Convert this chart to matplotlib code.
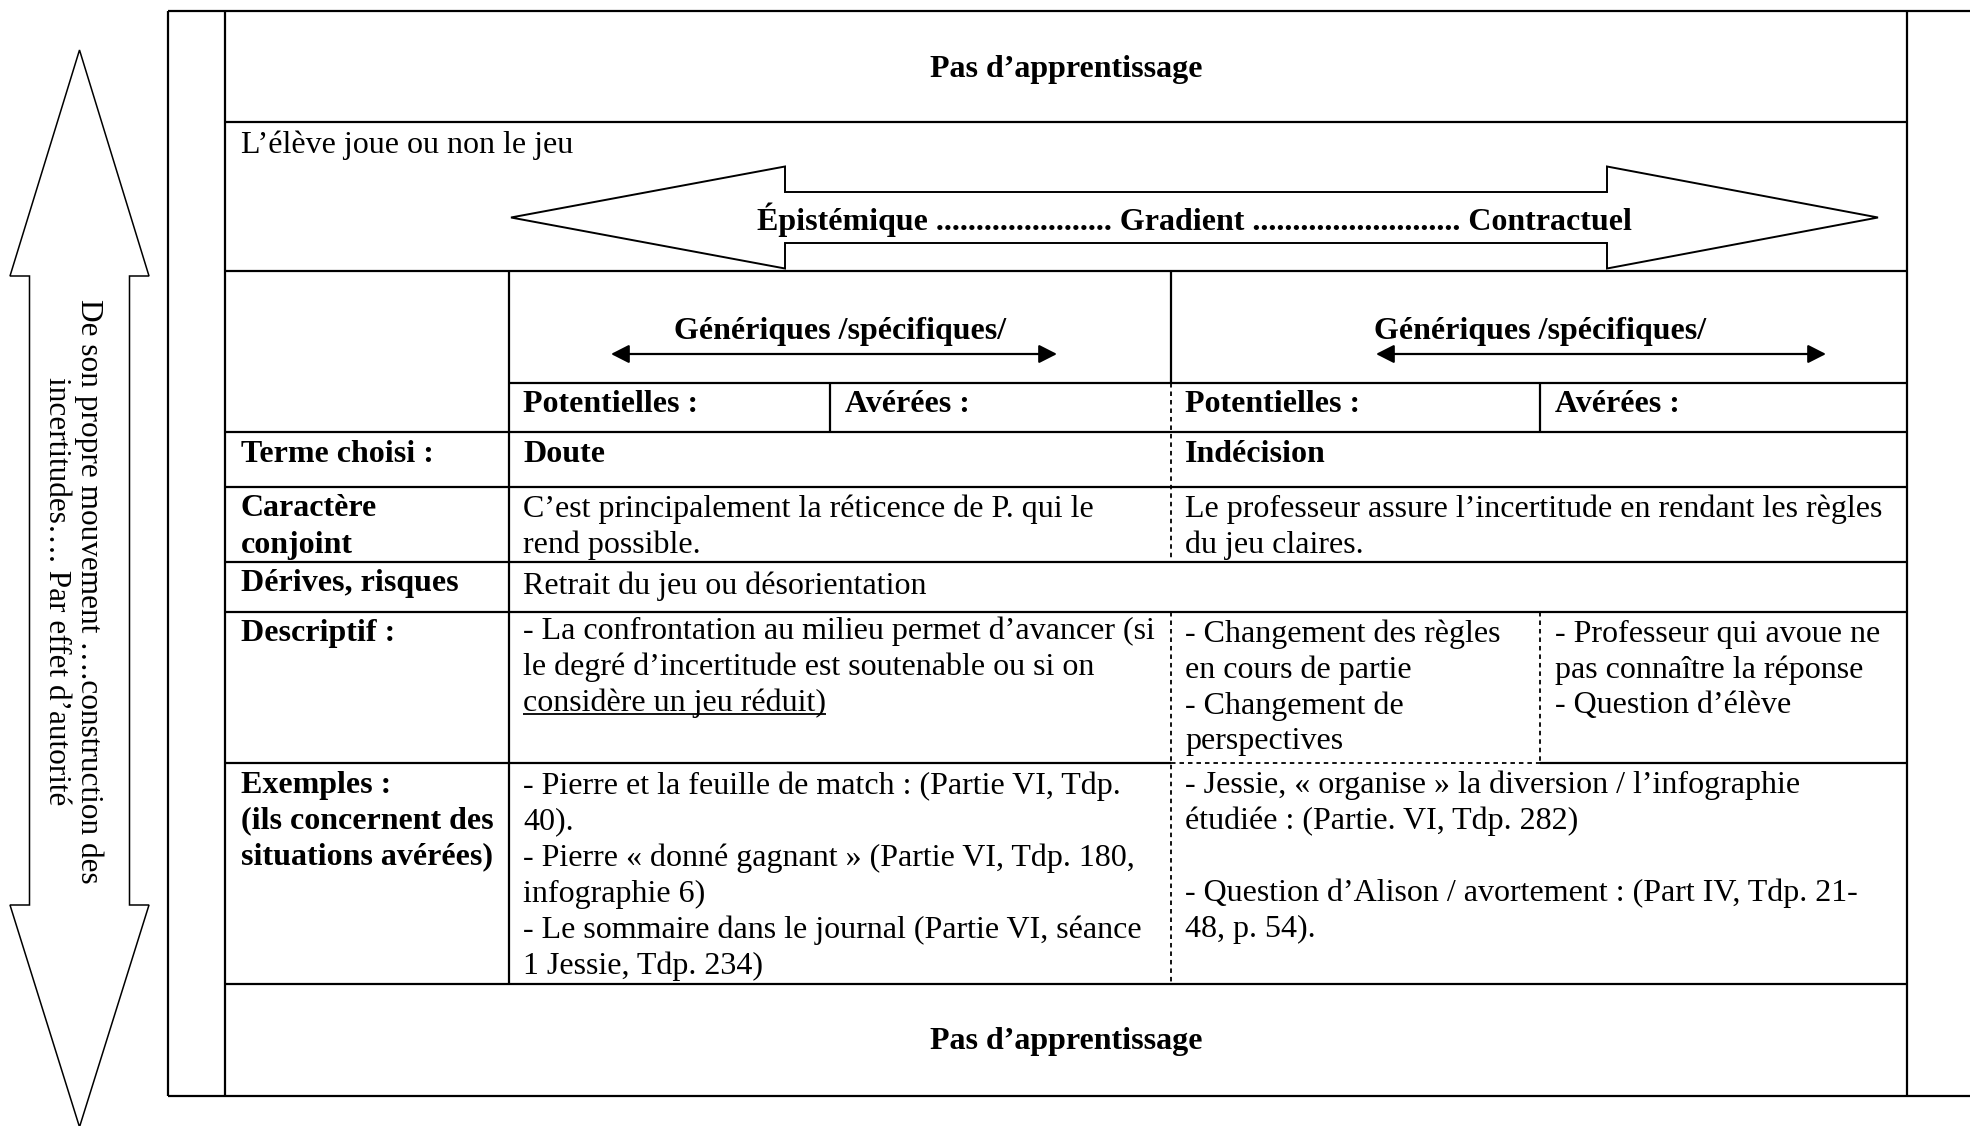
import matplotlib
matplotlib.use("Agg")
import matplotlib.pyplot as plt
from matplotlib.patches import Polygon, FancyArrowPatch

plt.rcParams['font.family'] = ['Liberation Serif', 'DejaVu Serif']

# ---- content ----
title_text = "Pas d\u2019apprentissage"
eleve_text = "L\u2019\u00e9l\u00e8ve joue ou non le jeu"
gradient_text = ("\u00c9pist\u00e9mique " + "." * 22 + " Gradient " + "." * 26 + " Contractuel")
generic_text = "G\u00e9n\u00e9riques /sp\u00e9cifiques/"
side_lines = ["De son propre mouvement \u2026.construction des",
              "incertitudes\u2026. Par effet d\u2019autorit\u00e9"]

sub_headers = ["Potentielles :", "Av\u00e9r\u00e9es :", "Potentielles :", "Av\u00e9r\u00e9es :"]

row_labels = [["Terme choisi :"],
              ["Caract\u00e8re", "conjoint"],
              ["D\u00e9rives, risques"],
              ["Descriptif :"],
              ["Exemples :", "(ils concernent des", "situations av\u00e9r\u00e9es)"]]

terme_left = ["Doute"]
terme_right = ["Ind\u00e9cision"]
caract_left = ["C\u2019est principalement la r\u00e9ticence de P. qui le", "rend possible."]
caract_right = ["Le professeur assure l\u2019incertitude en rendant les r\u00e8gles", "du jeu claires."]
derives_text = ["Retrait du jeu ou d\u00e9sorientation"]
descr_left = ["- La confrontation au milieu permet d\u2019avancer (si",
              "le degr\u00e9 d\u2019incertitude est soutenable ou si on",
              "consid\u00e8re un jeu r\u00e9duit)"]
descr_mid = ["- Changement des r\u00e8gles", "en cours de partie", "- Changement de", "perspectives"]
descr_right = ["- Professeur qui avoue ne", "pas conna\u00eetre la r\u00e9ponse", "- Question d\u2019\u00e9l\u00e8ve"]
exemples_left = ["- Pierre et la feuille de match : (Partie VI, Tdp.",
                 "40).",
                 "- Pierre \u00ab donn\u00e9 gagnant \u00bb (Partie VI, Tdp. 180,",
                 "infographie 6)",
                 "- Le sommaire dans le journal (Partie VI, s\u00e9ance",
                 "1 Jessie, Tdp. 234)"]
exemples_right = ["- Jessie, \u00ab organise \u00bb la diversion / l\u2019infographie",
                  "\u00e9tudi\u00e9e : (Partie. VI, Tdp. 282)",
                  "",
                  "- Question d\u2019Alison / avortement : (Part IV, Tdp. 21-",
                  "48, p. 54)."]

# ---- layout (pixel grid, y grows downward) ----
W, H = 1970, 1126
x_out, x_in, x_lab, x_av_l, x_mid, x_av_r, x_right = 168, 224.5, 509, 830, 1171, 1540, 1907
rows = [10.7, 122, 271, 383, 432, 487, 562, 612, 763, 984, 1096]
x_label_txt, x_left_txt, x_av_l_txt, x_right_txt, x_av_r_txt = 241, 523, 845, 1185, 1555
pad, lh = 22, 36
fs = 23
lw = 1.6
dash = (0, (2.5, 2.2))

fig = plt.figure(figsize=(W / 100, H / 100), dpi=100)
ax = fig.add_axes([0, 0, 1, 1])
ax.set_xlim(0, W)
ax.set_ylim(H, 0)
ax.axis('off')


def hline(y, x0, x1, ls='-', w=lw):
    ax.plot([x0, x1], [y, y], color='black', lw=w, ls=ls, solid_capstyle='butt')


def vline(x, y0, y1, ls='-', w=lw):
    ax.plot([x, x], [y0, y1], color='black', lw=w, ls=ls, solid_capstyle='butt')


def cell_text(lines, x, y0, bold=False):
    objs = []
    for i, s in enumerate(lines):
        objs.append(ax.text(x, y0 + i * lh, s, fontsize=fs, ha='left', va='center',
                            fontweight='bold' if bold else 'normal'))
    return objs


# outer frame
hline(rows[0], x_out, W)
hline(rows[-1], x_out, W)
vline(x_out, rows[0], rows[-1])
vline(x_in, rows[0], rows[-1])
vline(x_right, rows[0], rows[-1])

# row separators
for y in [rows[1], rows[2], rows[4], rows[5], rows[6], rows[7], rows[9]]:
    hline(y, x_in, x_right)
hline(rows[3], x_lab, x_right)
hline(rows[8], x_in, x_mid)
hline(rows[8], x_mid, x_av_r, ls=dash, w=1.3)
hline(rows[8], x_av_r, x_right)

# column separators
vline(x_lab, rows[2], rows[9])
vline(x_mid, rows[2], rows[3])
vline(x_mid, rows[3], rows[6], ls=dash, w=1.3)
vline(x_mid, rows[7], rows[9], ls=dash, w=1.3)
vline(x_av_l, rows[3], rows[4])
vline(x_av_r, rows[3], rows[4])
vline(x_av_r, rows[7], rows[8], ls=dash, w=1.3)

# titles
xc = (x_in + x_right) / 2
ax.text(xc, (rows[0] + rows[1]) / 2 + 3, title_text, fontsize=fs, fontweight='bold', ha='center', va='center')
ax.text(xc, (rows[9] + rows[10]) / 2 + 2, title_text, fontsize=fs, fontweight='bold', ha='center', va='center')
ax.text(x_label_txt, rows[1] + pad + 1, eleve_text, fontsize=fs, ha='left', va='center')

# big horizontal double arrow
tipL, tipR, backL, backR = 511, 1878, 785, 1607
ymid, hh, sh = 217.5, 51, 25.5
big = [(tipL, ymid), (backL, ymid - hh), (backL, ymid - sh), (backR, ymid - sh), (backR, ymid - hh),
       (tipR, ymid), (backR, ymid + hh), (backR, ymid + sh), (backL, ymid + sh), (backL, ymid + hh)]
ax.add_patch(Polygon(big, closed=True, fill=False, ec='black', lw=1.4, joinstyle='miter'))
ax.text((tipL + tipR) / 2, ymid + 2, gradient_text, fontsize=fs, fontweight='bold', ha='center', va='center')

# generic / specific headers with small arrows
for xt, (a0, a1) in [(840, (611, 1057)), (1540, (1376, 1826))]:
    ax.text(xt, 331, generic_text, fontsize=fs, fontweight='bold', ha='center', va='center')
    ax.add_patch(FancyArrowPatch((a0, 354), (a1, 354), arrowstyle='<|-|>,head_length=0.55,head_width=0.28',
                                 mutation_scale=20, color='black', lw=1.6, shrinkA=0, shrinkB=0))

# sub headers
for x, s in zip([x_left_txt, x_av_l_txt, x_right_txt, x_av_r_txt], sub_headers):
    ax.text(x, rows[3] + pad, s, fontsize=fs, fontweight='bold', ha='left', va='center')

# row labels
for r, lab in zip([rows[4], rows[5], rows[6], rows[7], rows[8]], row_labels):
    cell_text(lab, x_label_txt, r + pad, bold=True)

cell_text(terme_left, x_left_txt, rows[4] + pad, bold=True)
cell_text(terme_right, x_right_txt, rows[4] + pad, bold=True)
cell_text(caract_left, x_left_txt, rows[5] + pad)
cell_text(caract_right, x_right_txt, rows[5] + pad)
cell_text(derives_text, x_left_txt, rows[6] + pad + 2)
dl = cell_text(descr_left, x_left_txt, rows[7] + pad - 3)
cell_text(descr_mid, x_right_txt, rows[7] + pad)
cell_text(descr_right, x_av_r_txt, rows[7] + pad)
cell_text(exemples_left, x_left_txt, rows[8] + pad + 1)
cell_text(exemples_right, x_right_txt, rows[8] + pad)

# underline of the last descriptive line
fig.canvas.draw()
bb = dl[-1].get_window_extent().transformed(ax.transData.inverted())
ub = max(bb.y0, bb.y1)
hline(ub - 4, min(bb.x0, bb.x1), max(bb.x0, bb.x1), w=1.3)

# vertical double arrow on the left
vx, vtop, vbot = 79.5, 50, 1127
vb1, vb2 = 276, 905
hw, sw = 69.5, 50
vert = [(vx, vtop), (vx + hw, vb1), (vx + sw, vb1), (vx + sw, vb2), (vx + hw, vb2),
        (vx, vbot), (vx - hw, vb2), (vx - sw, vb2), (vx - sw, vb1), (vx - hw, vb1)]
ax.add_patch(Polygon(vert, closed=True, fill=False, ec='black', lw=1.1, joinstyle='miter', clip_on=False))
for xx, s in zip([89, 56], side_lines):
    ax.text(xx, 591.5, s, fontsize=fs - 0.5, rotation=270, ha='center', va='center', rotation_mode='anchor')

fig.savefig("out.png", dpi=100)
